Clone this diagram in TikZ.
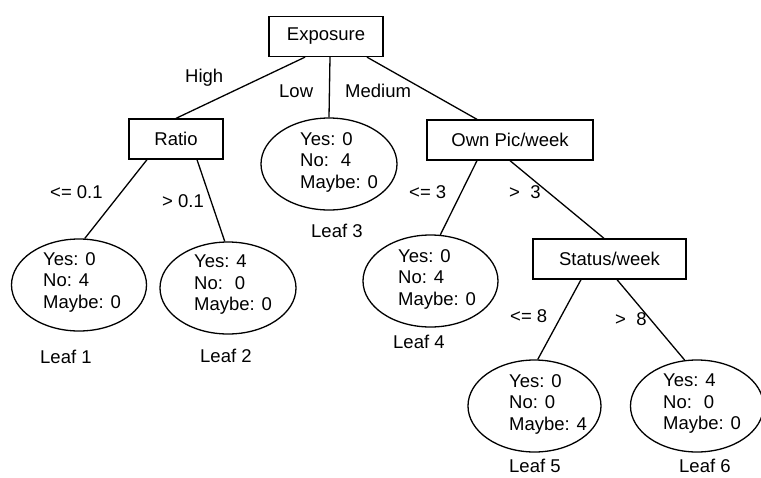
\documentclass[tikz,border=0pt]{standalone}
\usepackage{fontspec}
\setmainfont{Liberation Sans}
\usetikzlibrary{shapes.geometric,calc}
\tikzset{
  every node/.style={font=\fontsize{18.5}{21.5}\selectfont, inner sep=0pt},
  box/.style={draw, line width=1.3pt, rectangle, minimum height=40pt},
  leaf/.style={draw, line width=1.3pt, ellipse, minimum height=92pt},
  counts/.style={align=left, anchor=north west},
  elabel/.style={anchor=base west},
  edge/.style={line width=1.3pt},
}
\begin{document}
\begin{tikzpicture}[x=1pt,y=-1pt]
\useasboundingbox (0,0) rectangle (761,477);
% boxes
\node[box, minimum width=114pt] (expo) at (326,36.5) {Exposure};
\node[box, minimum width=94pt] (ratio) at (176,139) {Ratio\hspace{13pt}};
\node[box, minimum width=166pt] (own) at (510,140) {Own Pic/week\hspace{12pt}};
\node[box, minimum width=153pt] (status) at (609.5,259) {Status/week\hspace{13pt}};
% leaves
\node[leaf, minimum width=135pt] (l1) at (79,285) {};
\node[leaf, minimum width=136pt] (l2) at (228,288) {};
\node[leaf, minimum width=136pt] (l3) at (329,164) {};
\node[leaf, minimum width=135pt] (l4) at (430.5,281) {};
\node[leaf, minimum width=133pt] (l5) at (534.5,406) {};
\node[leaf, minimum width=133pt] (l6) at (697,406) {};
% leaf contents
\node[counts] (t1) at (43,252) {Yes: 0\\No: 4\\Maybe: 0};
\node[counts] (t2) at (194,255) {Yes: 4\\No: \ 0\\Maybe: 0};
\node[counts] (t3) at (300,132) {Yes: 0\\No: \ 4\\Maybe: 0};
\node[counts] (t4) at (398,249) {Yes: 0\\No: 4\\Maybe: 0};
\node[counts] (t5) at (509,374) {Yes: 0\\No: 0\\Maybe: 4};
\node[counts] (t6) at (663,374) {Yes: 4\\No: \ 0\\Maybe: 0};
% connectors
\draw[edge] ($(expo.south)+(-21,0)$) -- (ratio.north);
\draw[edge] ($(expo.south)+(4,0)$) -- (l3.north);
\draw[edge] ($(expo.south)+(41,0)$) -- ($(own.north)+(-33,0)$);
\draw[edge] ($(ratio.south)+(-29,0)$) -- (l1.83);
\draw[edge] ($(ratio.south)+(21,0)$) -- (l2.94);
\draw[edge] ($(own.south)+(-33,0)$) -- (l4.78);
\draw[edge] (own.south) -- ($(status.north)+(-5.5,0)$);
\draw[edge] ($(status.south)+(-28.5,0)$) -- (l5.86);
\draw[edge] ($(status.south)+(7.5,0)$) -- (l6.105);
% edge labels
\node[elabel] (eh) at (185,82) {High};
\node[elabel] (el) at (279,97) {Low};
\node[elabel] (em) at (345,97) {Medium};
\node[elabel] (r1) at (50,198) {<= 0.1};
\node[elabel] (r2) at (162,207) {> 0.1};
\node[elabel] (o1) at (409,198) {<= 3};
\node[elabel] (o2) at (509,198) {> \ 3};
\node[elabel] (s1) at (510,322) {<= 8};
\node[elabel] (s2) at (615,325) {> \ 8};
% leaf names
\node[elabel] (n1) at (40,363) {Leaf 1};
\node[elabel] (n2) at (200,362) {Leaf 2};
\node[elabel] (n3) at (311,237) {Leaf 3};
\node[elabel] (n4) at (393,348) {Leaf 4};
\node[elabel] (n5) at (509,472) {Leaf 5};
\node[elabel] (n6) at (679,472) {Leaf 6};
\end{tikzpicture}
\end{document}
